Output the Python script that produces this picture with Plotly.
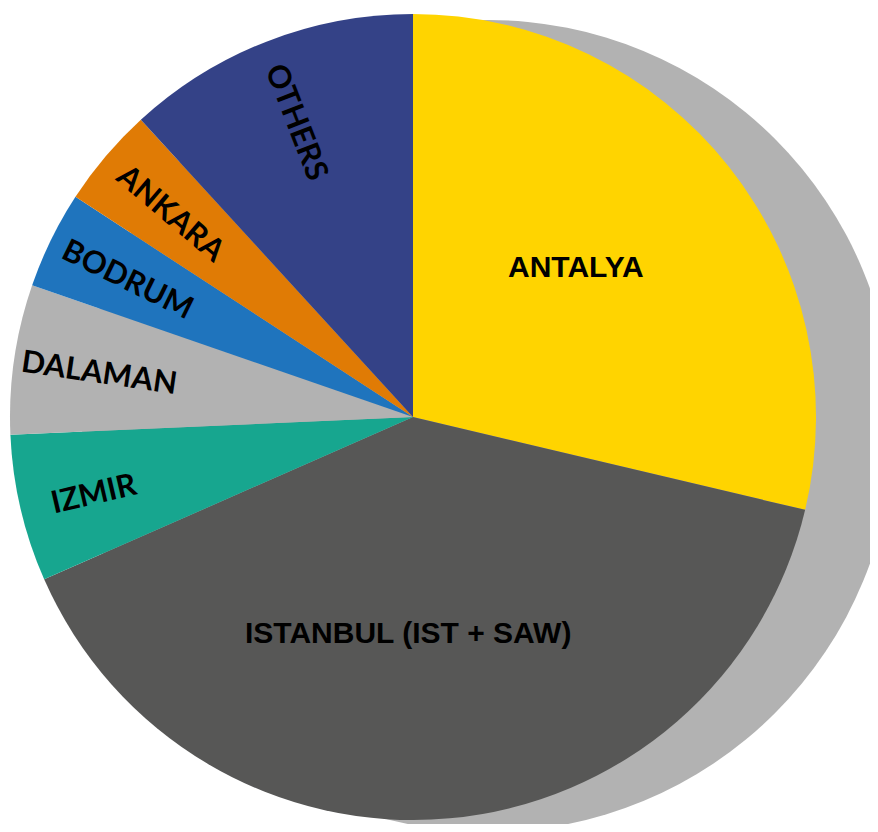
import math
import plotly.graph_objects as go

labels = ["ANTALYA", "ISTANBUL (IST + SAW)", "IZMIR", "DALAMAN", "BODRUM", "ANKARA", "OTHERS"]
values = [28.7, 39.7, 5.9, 6.0, 3.9, 4.0, 11.8]
colors = ["#FFD400", "#575756", "#17A68F", "#B2B2B2", "#1F74BD", "#E07B05", "#344287"]
big_labels = ["ANTALYA", "ISTANBUL (IST + SAW)"]

# figure sized so the page (8px body margin) has no scrollbars
W, H = 870, 816
OFF = 8
cx, cy, r = 413 - OFF, 417 - OFF, 403

dom_x = [(cx - r) / W, (cx + r) / W]
dom_y = [(H - (cy + r)) / H, (H - (cy - r)) / H]

fig = go.Figure()
fig.add_trace(go.Pie(
    labels=labels, values=values, sort=False, direction="clockwise", rotation=0,
    marker=dict(colors=colors, line=dict(width=0)),
    textinfo="none",
    domain=dict(x=dom_x, y=dom_y), hoverinfo="skip", showlegend=False,
))


def to_paper(px, py):
    return px / W, (H - py) / H


big_place = {"ANTALYA": (47.2, 0.55), "ISTANBUL (IST + SAW)": (181.3, 0.535)}
small_frac = {"IZMIR": 0.815}
total = sum(values)
cum = 0.0
for lab, v in zip(labels, values):
    start = cum / total * 360
    cum += v
    end = cum / total * 360
    mid = (start + end) / 2
    if lab in big_labels:
        ang_deg, frac = big_place[lab]
        rr = frac * r
        x = cx + rr * math.sin(math.radians(ang_deg))
        y = cy - rr * math.cos(math.radians(ang_deg))
        px, py = to_paper(x, y)
        fig.add_annotation(x=px, y=py, xref="paper", yref="paper", text=lab,
                           showarrow=False, xanchor="center", yanchor="middle",
                           font=dict(family="Liberation Sans, Arial, sans-serif", size=30,
                                     color="black", weight="bold"))
    else:
        rr = small_frac.get(lab, 0.785) * r
        x = cx + rr * math.sin(math.radians(mid))
        y = cy - rr * math.cos(math.radians(mid))
        px, py = to_paper(x, y)
        fig.add_annotation(x=px, y=py, xref="paper", yref="paper", text=lab,
                           showarrow=False, textangle=mid - 270,
                           xanchor="center", yanchor="middle",
                           font=dict(family="Lato, sans-serif", size=31, color="black", weight="bold"))

# shadow disc behind the pie, offset to the lower right
sx, sy, sr = cx + 75, cy + 9, 406
x0, y0 = to_paper(sx - sr, sy + sr)
x1, y1 = to_paper(sx + sr, sy - sr)
fig.add_shape(type="circle", xref="paper", yref="paper", layer="below",
              x0=x0, x1=x1, y0=y0, y1=y1,
              fillcolor="#B2B2B2", line=dict(width=0))

fig.update_layout(width=W, height=H, margin=dict(l=0, r=0, t=0, b=0),
                  paper_bgcolor="white", plot_bgcolor="white", showlegend=False)
fig.write_html("out.html")
